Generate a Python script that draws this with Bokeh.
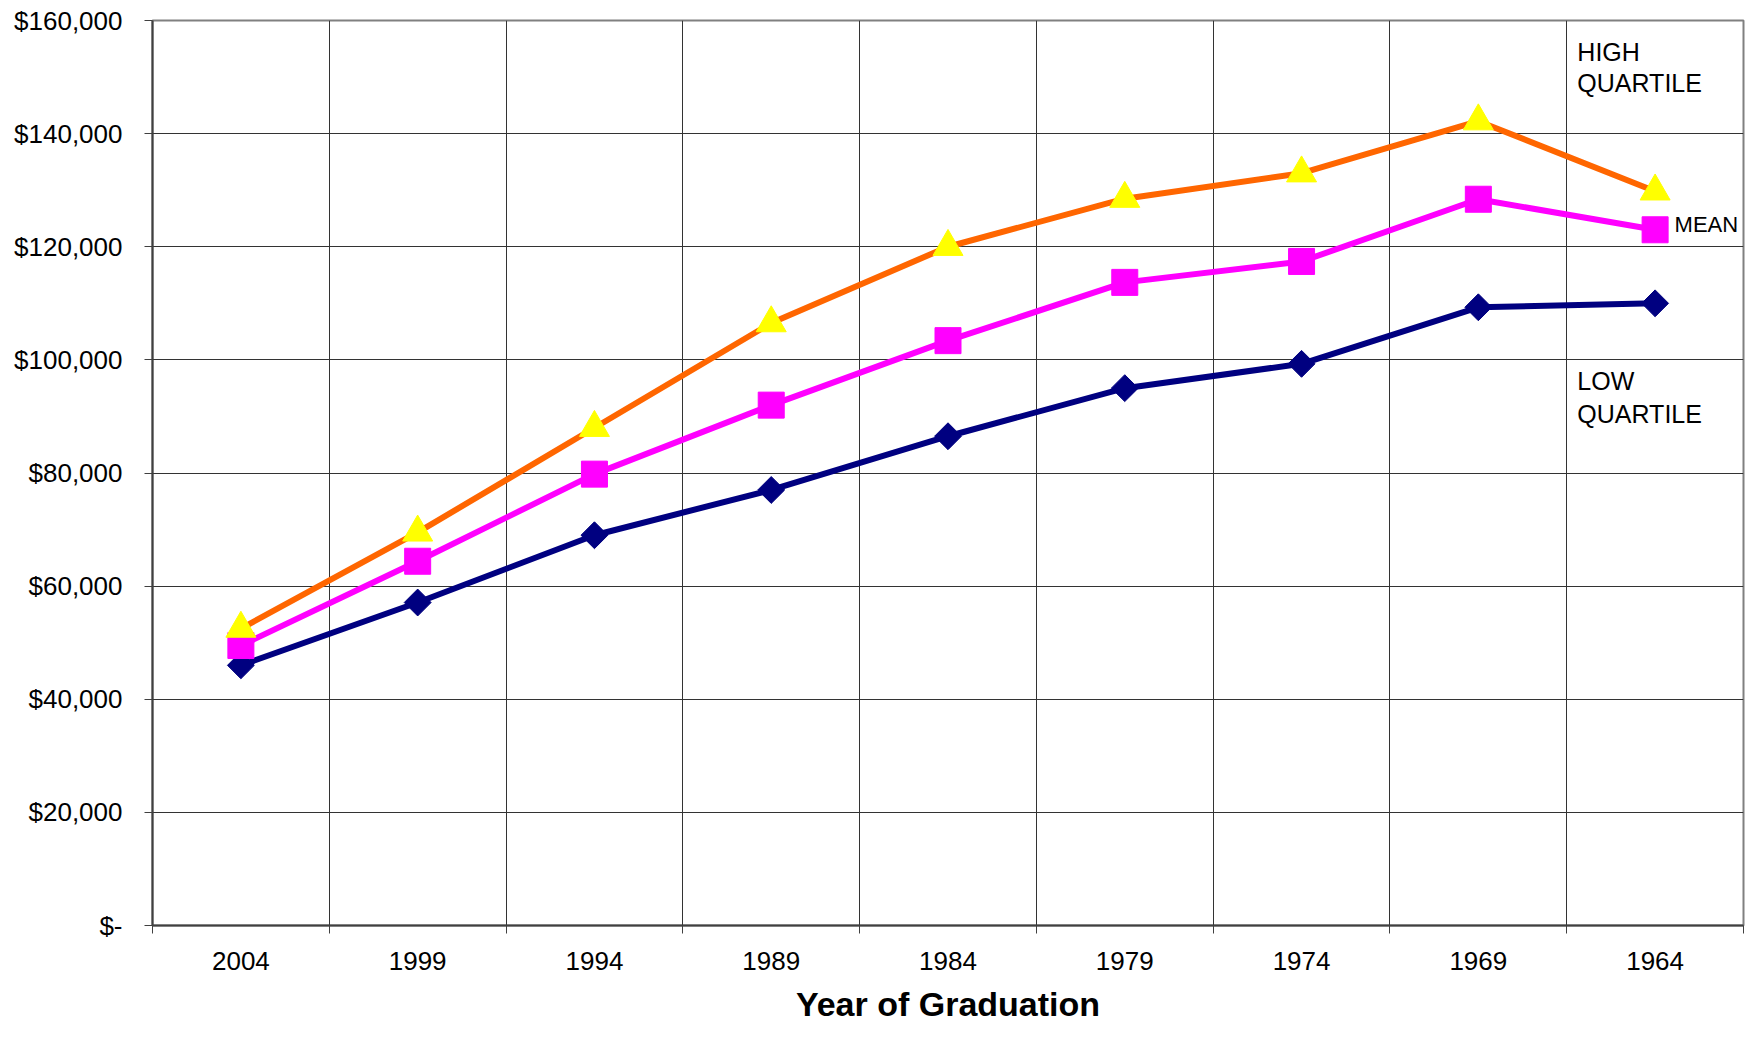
import math
from bokeh.plotting import figure
from bokeh.models import FixedTicker, Label, Range1d
from bokeh.embed import file_html
from bokeh.resources import INLINE

# ---- data ----
years = ["2004", "1999", "1994", "1989", "1984", "1979", "1974", "1969", "1964"]
high_quartile = [52500, 69500, 88000, 106500, 120000, 128500, 133000, 142200, 129800]
mean_salary = [49500, 64400, 79800, 92000, 103400, 113700, 117400, 128400, 123000]
low_quartile = [46000, 57100, 69000, 77000, 86500, 95000, 99300, 109300, 110000]
y_ticks = [0, 20000, 40000, 60000, 80000, 100000, 120000, 140000, 160000]
y_tick_labels = ["$-", "$20,000", "$40,000", "$60,000", "$80,000",
                 "$100,000", "$120,000", "$140,000", "$160,000"]

FONT = "Liberation Sans"
n = len(years)
xs = [i + 0.5 for i in range(n)]          # category centres
bounds = list(range(n + 1))                # category boundaries

p = figure(width=1745, height=1025,
           x_range=Range1d(0, n), y_range=Range1d(0, 160000),
           output_backend="svg", toolbar_location=None,
           min_border_left=152, min_border_right=2,
           min_border_top=20, min_border_bottom=98,
           background_fill_color="white", border_fill_color="white")

p.outline_line_color = "#808080"
p.outline_line_width = 2

# grid
p.xgrid.ticker = FixedTicker(ticks=bounds)
p.ygrid.ticker = FixedTicker(ticks=y_ticks)
for g in (p.xgrid, p.ygrid):
    g.grid_line_color = "#333333"
    g.grid_line_width = 1

# x axis
xa = p.xaxis[0]
xa.ticker = FixedTicker(ticks=xs, minor_ticks=bounds)
xa.major_label_overrides = {float(x): y for x, y in zip(xs, years)}
xa.major_tick_line_color = None
xa.major_tick_out = 8
xa.major_tick_in = 0
xa.minor_tick_line_color = "#404040"
xa.minor_tick_out = 8
xa.minor_tick_in = 0
xa.major_label_standoff = 18
xa.major_label_text_font = FONT
xa.major_label_text_font_size = "26px"
xa.major_label_text_color = "black"
xa.axis_line_color = "#404040"
xa.axis_line_width = 2
xa.axis_label = "Year of Graduation"
xa.axis_label_text_font = FONT
xa.axis_label_text_font_size = "34px"
xa.axis_label_text_font_style = "bold"
xa.axis_label_text_color = "black"
xa.axis_label_standoff = 12

# y axis
ya = p.yaxis[0]
ya.ticker = FixedTicker(ticks=y_ticks, minor_ticks=[])
ya.major_label_overrides = dict(zip(y_ticks, y_tick_labels))
ya.major_tick_line_color = "#404040"
ya.major_tick_out = 8
ya.major_tick_in = 0
ya.minor_tick_line_color = None
ya.major_label_standoff = 22
ya.major_label_text_font = FONT
ya.major_label_text_font_size = "26px"
ya.major_label_text_color = "black"
ya.axis_line_color = "#404040"
ya.axis_line_width = 2

# series
p.line(xs, low_quartile, line_color="#000080", line_width=6)
p.scatter(xs, low_quartile, marker="square", size=19, angle=math.pi / 4,
          fill_color="#000080", line_color="#000080")

p.line(xs, mean_salary, line_color="#FF00FF", line_width=6)
p.scatter(xs, mean_salary, marker="square", size=26,
          fill_color="#FF00FF", line_color="#FF00FF")

p.line(xs, high_quartile, line_color="#FF6600", line_width=6)
p.scatter(xs, high_quartile, marker="triangle", size=30,
          fill_color="#FFFF00", line_color="#FFFF00")

# annotations
def add_label(x, y, text, size):
    p.add_layout(Label(x=x, y=y, text=text, text_font=FONT,
                       text_font_size=size, text_color="black",
                       text_baseline="middle", text_align="left"))

add_label(8.06, 154500, "HIGH", "25px")
add_label(8.06, 148900, "QUARTILE", "25px")
add_label(8.61, 123900, "MEAN", "22px")
add_label(8.06, 96300, "LOW", "25px")
add_label(8.06, 90400, "QUARTILE", "25px")

open("out.html", "w").write(file_html(p, INLINE))
